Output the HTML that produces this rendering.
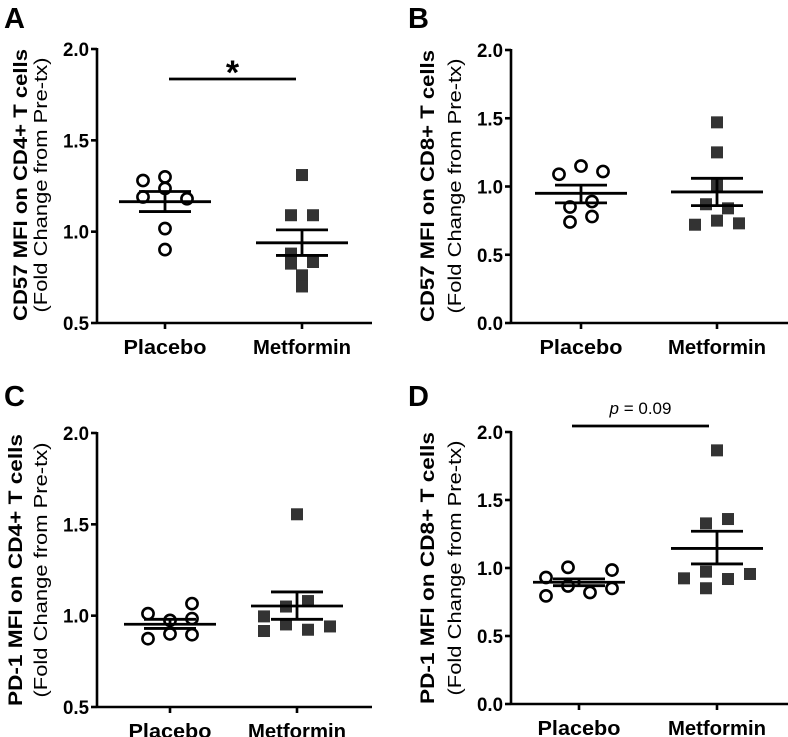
<!DOCTYPE html>
<html><head><meta charset="utf-8"><style>
html,body{margin:0;padding:0;background:#fff;}
svg{display:block;font-family:"Liberation Sans",Arial,sans-serif;}
</style></head><body>
<svg id="fig" width="788" height="737" viewBox="0 0 788 737"></svg>
<script>
// Panel A: CD57 on CD4+
const aPlacebo=[1.28,1.30,1.19,1.237,1.18,1.017,0.902];
const aMetformin=[1.31,1.09,1.09,0.88,0.834,0.825,0.761,0.70];
const aStats=[1.164,1.11,1.22,0.939,0.87,1.01];
// Panel B: CD57 on CD8+
const bPlacebo=[1.09,1.15,1.11,0.85,0.89,0.74,0.78];
const bMetformin=[1.47,1.25,1.01,0.87,0.84,0.75,0.72,0.73];
const bStats=[0.95,0.88,1.01,0.96,0.86,1.06];
// Panel C: PD-1 on CD4+
const cPlacebo=[1.011,0.974,1.066,0.984,0.874,0.90,0.896];
const cMetformin=[1.555,1.05,1.08,0.996,0.916,0.952,0.923,0.941];
const cStats=[0.953,0.93,0.98,1.053,0.98,1.13];
// Panel D: PD-1 on CD8+
const dPlacebo=[0.93,1.005,0.985,0.868,0.795,0.82,0.85];
const dMetformin=[1.865,1.328,1.36,0.924,0.973,0.919,0.956,0.851];
const dStats=[0.895,0.87,0.92,1.144,1.03,1.27];
const categories=["Placebo","Metformin"];
const ticksA=[0.5,1.0,1.5,2.0];
const ticksB=[0.0,0.5,1.0,1.5,2.0];
// jitter slots (half-marker units)
const jA=[[-2,0,-2,0,2,0,0],[0,-1,1,-1,1,-1,0,0]];
const jB=[[-2,0,2,-1,1,-1,1],[0,0,0,-1,1,0,-2,2]];
const jC=[[-2,0,2,2,-2,0,2],[0,-1,1,-3,-3,-1,1,3]];
const jD=[[-3,-1,3,-1,-3,1,3],[0,-1,1,-3,-1,1,3,-1]];

const NS="http://www.w3.org/2000/svg";
const svg=document.getElementById('fig');
function mk(tag,attrs,parent,text){const e=document.createElementNS(NS,tag);for(const k in attrs)e.setAttribute(k,attrs[k]);if(text!==undefined)e.textContent=text;(parent||svg).appendChild(e);return e;}

function panel(cfg){
  const g=mk('g',{});
  
  
  const y=v=>cfg.yb-(v-cfg.vmin)/(cfg.vmax-cfg.vmin)*(cfg.yb-cfg.yt);
  const L=mk('text',{x:cfg.lx,y:cfg.ly,'font-size':29,'font-weight':'bold'},g,cfg.id);
  
  const ya=mk('line',{x1:cfg.ax,y1:cfg.yt-1,x2:cfg.ax,y2:cfg.yb+1,stroke:'#000','stroke-width':2.6},g);
  
  const xa=mk('line',{x1:cfg.ax,y1:cfg.yb,x2:cfg.xe,y2:cfg.yb,stroke:'#000','stroke-width':2.6},g);
  
  cfg.ticks.forEach(t=>{
    mk('line',{x1:cfg.ax-6,y1:y(t),x2:cfg.ax,y2:y(t),stroke:'#000','stroke-width':2.6},g);
    const tl=mk('text',{x:cfg.ax-8,y:y(t)+7,'font-size':19,'font-weight':'bold','text-anchor':'end',textLength:26,lengthAdjust:'spacingAndGlyphs'},g,t.toFixed(1));
    
  });
  const lw=[83,98];
  categories.forEach((c,i)=>{
    const cx=cfg.cats[i];
    mk('line',{x1:cx,y1:cfg.yb,x2:cx,y2:cfg.yb+6,stroke:'#000','stroke-width':2.6},g);
    const cl=mk('text',{x:cx,y:cfg.yb+31,'font-size':20,'font-weight':'bold','text-anchor':'middle',textLength:lw[i],lengthAdjust:'spacingAndGlyphs'},g,c);
    
  });
  const t1=mk('text',{transform:`translate(${cfg.tx1},${cfg.tcy}) rotate(-90)`,'font-size':19.5,'font-weight':'bold','text-anchor':'middle',textLength:272,lengthAdjust:'spacingAndGlyphs'},g,cfg.title);
  
  const t2=mk('text',{transform:`translate(${cfg.tx2},${cfg.tcy}) rotate(-90)`,'font-size':18.5,'text-anchor':'middle',textLength:255,lengthAdjust:'spacingAndGlyphs'},g,'(Fold Change from Pre-tx)');
  
  cfg.placebo.forEach((v,i)=>{
    const c=mk('circle',{cx:cfg.cats[0]+cfg.jit[0][i]*11,cy:y(v),r:5.6,fill:'#fff',stroke:'#000','stroke-width':2.6},g);
    
  });
  cfg.metformin.forEach((v,i)=>{
    const s=mk('rect',{x:cfg.cats[1]+cfg.jit[1][i]*11-6,y:y(v)-6,width:12,height:12,fill:'#333'},g);
    
  });
  [0,1].forEach(k=>{
    const cx=cfg.cats[k],m=cfg.stats[k*3],lo=cfg.stats[k*3+1],hi=cfg.stats[k*3+2];
    const ml=mk('line',{x1:cx-46,y1:y(m),x2:cx+46,y2:y(m),stroke:'#000','stroke-width':2.8},g);
    
    mk('line',{x1:cx,y1:y(lo),x2:cx,y2:y(hi),stroke:'#000','stroke-width':2.8},g);
    mk('line',{x1:cx-26,y1:y(lo),x2:cx+26,y2:y(lo),stroke:'#000','stroke-width':2.8},g);
    mk('line',{x1:cx-26,y1:y(hi),x2:cx+26,y2:y(hi),stroke:'#000','stroke-width':2.8},g);
  });
  if(cfg.sig){
    const s=cfg.sig;
    const b=mk('line',{x1:s.x1,y1:s.y,x2:s.x2,y2:s.y,stroke:'#000','stroke-width':2.8},g);
    
    const st=mk('text',{x:(s.x1+s.x2)/2,y:s.ty,'font-size':s.fs,'font-weight':s.fw,'text-anchor':'middle'},g);
    
    if(s.p){mk('tspan',{'font-style':'italic'},st,'p');mk('tspan',{},st,' = 0.09');}else st.textContent='*';
  }
}
panel({id:'A',lx:4,ly:28,ax:97,yt:49,yb:323,xe:372,vmin:0.5,vmax:2.0,ticks:ticksA,cats:[165,302],tx1:27,tx2:47,tcy:185,title:'CD57 MFI on CD4+ T cells',placebo:aPlacebo,metformin:aMetformin,stats:aStats,jit:jA,sig:{x1:169,x2:296,y:79,ty:84,fs:34,fw:'bold'}});
panel({id:'B',lx:408,ly:28,ax:511,yt:50,yb:323,xe:788,vmin:0,vmax:2.0,ticks:ticksB,cats:[581,717],tx1:434,tx2:461,tcy:186,title:'CD57 MFI on CD8+ T cells',placebo:bPlacebo,metformin:bMetformin,stats:bStats,jit:jB});
panel({id:'C',lx:4,ly:406,ax:97,yt:433,yb:707,xe:372,vmin:0.5,vmax:2.0,ticks:ticksA,cats:[170,297],tx1:22,tx2:47,tcy:570,title:'PD-1 MFI on CD4+ T cells',placebo:cPlacebo,metformin:cMetformin,stats:cStats,jit:jC});
panel({id:'D',lx:408,ly:406,ax:511,yt:432,yb:704,xe:788,vmin:0,vmax:2.0,ticks:ticksB,cats:[579,717],tx1:434,tx2:461,tcy:568,title:'PD-1 MFI on CD8+ T cells',placebo:dPlacebo,metformin:dMetformin,stats:dStats,jit:jD,sig:{x1:572,x2:709,y:426,ty:414,fs:17,fw:'normal',p:true}});
</script>
</body></html>
